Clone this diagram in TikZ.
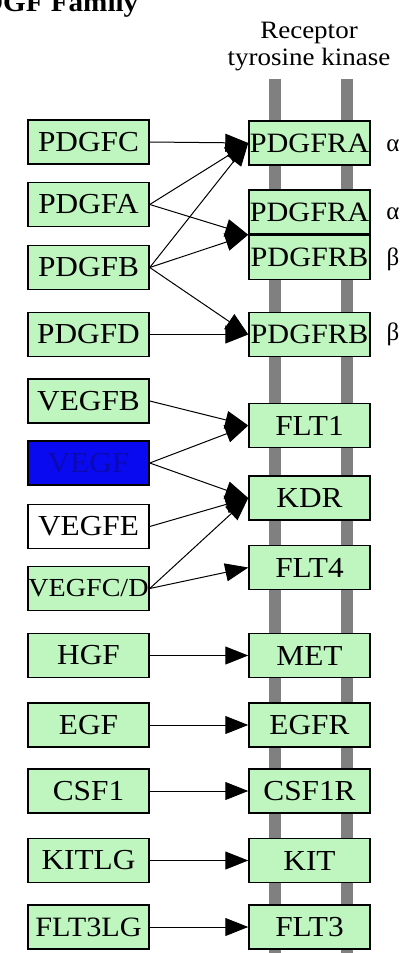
\documentclass[tikz,border=0pt]{standalone}
\usepackage{fontspec}
\setmainfont{Liberation Serif}
\newfontfamily\labfont[FakeStretch=1.08]{Liberation Serif}
\usetikzlibrary{arrows.meta}
\definecolor{kgreen}{HTML}{BFF5BF}
\definecolor{kblue}{HTML}{0A0AF0}
\definecolor{kbluetext}{HTML}{0A0AB0}
\definecolor{bargray}{HTML}{808080}
\begin{document}
\begin{tikzpicture}[x=1pt,y=-1pt,
  gene/.style={draw=black, line width=1.5pt, fill=kgreen, minimum width=121pt,
    minimum height=44pt, inner sep=0pt, font=\labfont\fontsize{29}{30}\selectfont},
  act/.style={line width=1pt, -{Triangle[length=23pt,width=18pt]}},
  greek/.style={font=\fontsize{25}{27}\selectfont, inner sep=0pt}]
\useasboundingbox (0,0) rectangle (406,953);
\fill[white] (0,0) rectangle (406,953);
% title (clipped at page edge, as in the reference)
\node[anchor=base west, inner sep=0pt, font=\labfont\bfseries\fontsize{27}{29}\selectfont] (title) at (-36,11) {PDGF Family};
\node[align=center, inner sep=0pt, font=\labfont\fontsize{25}{27}\selectfont] (rtk) at (309,47) {Receptor\\tyrosine kinase};
% membrane bars
\fill[bargray] (269,79) rectangle (281,953);
\fill[bargray] (341,79) rectangle (353,953);
% ligands
\node[gene] (pdgfc) at (88.5,142) {PDGFC};
\node[gene] (pdgfa) at (88.5,204.5) {PDGFA};
\node[gene] (pdgfb) at (88.5,267.5) {PDGFB};
\node[gene] (pdgfd) at (88.5,334.5) {PDGFD};
\node[gene] (vegfb) at (88.5,401) {VEGFB};
\node[gene, fill=kblue, text=kbluetext] (vegf) at (88.5,463) {VEGF};
\node[gene, fill=white] (vegfe) at (88.5,526.5) {VEGFE};
\node[gene] (vegfcd) at (88.5,588.5) {\fontsize{26}{28}\selectfont VEGFC/D};
\node[gene] (hgf) at (88.5,655.5) {HGF};
\node[gene] (egf) at (88.5,725) {EGF};
\node[gene] (csf1) at (88.5,791) {CSF1};
\node[gene] (kitlg) at (88.5,860.5) {KITLG};
\node[gene] (flt3lg) at (88.5,927) {\fontsize{28}{30}\selectfont FLT3LG};
% receptors
\node[gene] (pdgfra1) at (309.5,143) {\fontsize{28}{30}\selectfont PDGFRA};
\node[gene] (pdgfra2) at (309.5,212) {\fontsize{28}{30}\selectfont PDGFRA};
\node[gene] (pdgfrb2) at (309.5,257.5) {\fontsize{28}{30}\selectfont PDGFRB};
\node[gene] (pdgfrb4) at (309.5,334.5) {\fontsize{28}{30}\selectfont PDGFRB};
\node[gene] (flt1) at (309.5,425.5) {FLT1};
\node[gene] (kdr) at (309.5,498) {KDR};
\node[gene] (flt4) at (309.5,567.5) {FLT4};
\node[gene] (met) at (309.5,655.5) {MET};
\node[gene] (egfr) at (309.5,725) {EGFR};
\node[gene] (csf1r) at (309.5,791) {CSF1R};
\node[gene] (kit) at (309.5,860.5) {KIT};
\node[gene] (flt3) at (309.5,927) {FLT3};
% greek labels
\node[greek] (a1) at (393,146) {α};
\node[greek] (a2) at (393,214) {α};
\node[greek] (b2) at (393,259) {β};
\node[greek] (b4) at (393,334) {β};
% connectors
\draw[act] (pdgfc.east) -- (pdgfra1.west);
\draw[act] (pdgfa.east) -- (pdgfra1.west);
\draw[act] (pdgfb.east) -- (pdgfra1.west);
\draw[act] (pdgfa.east) -- (pdgfra2.south west);
\draw[act] (pdgfb.east) -- (pdgfra2.south west);
\draw[act] (pdgfb.east) -- (pdgfrb4.west);
\draw[act] (pdgfd.east) -- (pdgfrb4.west);
\draw[act] (vegfb.east) -- (flt1.west);
\draw[act] (vegf.east) -- (flt1.west);
\draw[act] (vegf.east) -- (kdr.west);
\draw[act] (vegfe.east) -- (kdr.west);
\draw[act] (vegfcd.east) -- (kdr.west);
\draw[act] (vegfcd.east) -- (flt4.west);
\draw[act] (hgf.east) -- (met.west);
\draw[act] (egf.east) -- (egfr.west);
\draw[act] (csf1.east) -- (csf1r.west);
\draw[act] (kitlg.east) -- (kit.west);
\draw[act] (flt3lg.east) -- (flt3.west);
\end{tikzpicture}
\end{document}
